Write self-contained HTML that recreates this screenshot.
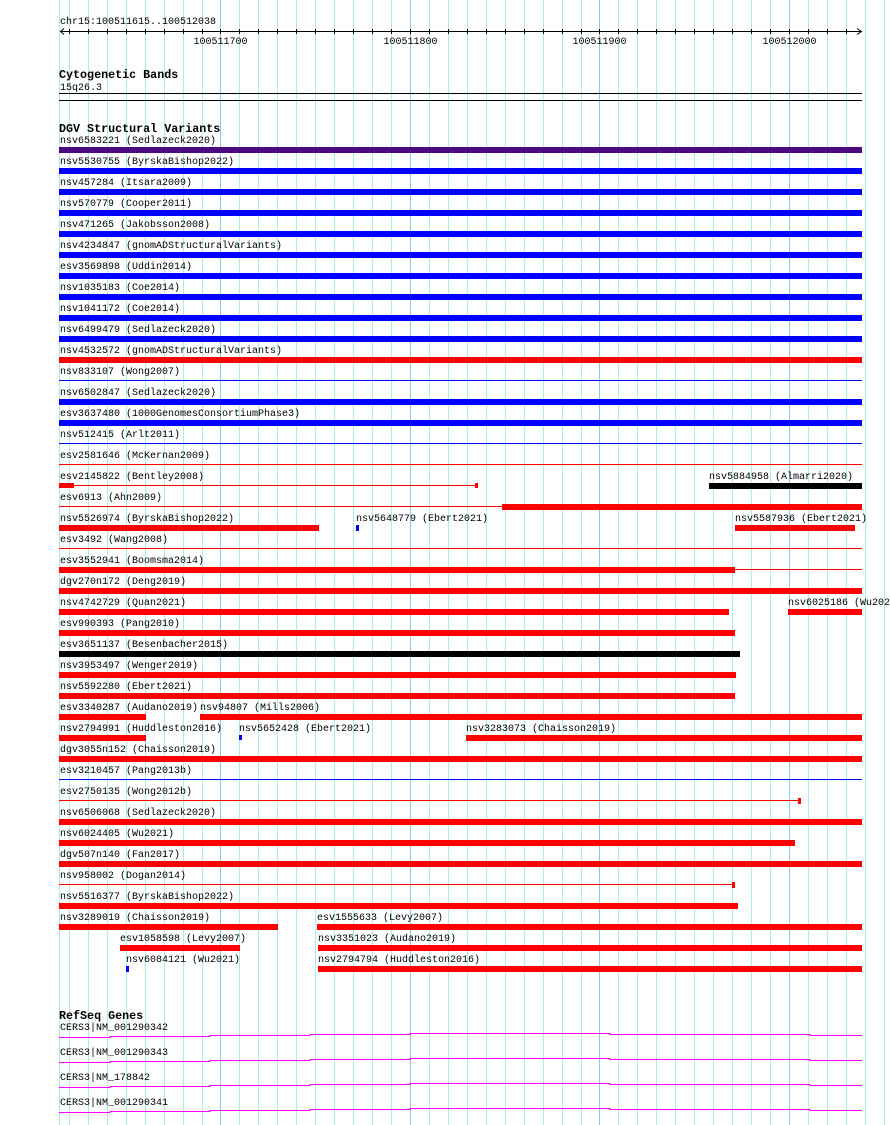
<!DOCTYPE html>
<html><head><meta charset="utf-8"><style>
html,body{margin:0;padding:0;background:#fff;}
svg{display:block;}
text{font-family:"Liberation Mono",monospace;font-size:10px;fill:#000;}
.h{font-weight:bold;font-size:11.7px;}
.g{stroke:#aee8f0;stroke-width:1;}
.gm{stroke:#88c8ee;stroke-width:1;}
.r{fill:#ff0000;}.b{fill:#0000ff;}.k{fill:#000;}
</style></head><body>
<svg width="890" height="1125" xmlns="http://www.w3.org/2000/svg">
<g>
<line class="g" x1="59.5" y1="0" x2="59.5" y2="1125"/>
<line class="g" x1="69.5" y1="0" x2="69.5" y2="1125"/><line class="g" x1="88.5" y1="0" x2="88.5" y2="1125"/><line class="g" x1="107.5" y1="0" x2="107.5" y2="1125"/><line class="g" x1="126.5" y1="0" x2="126.5" y2="1125"/><line class="g" x1="145.5" y1="0" x2="145.5" y2="1125"/><line class="g" x1="164.5" y1="0" x2="164.5" y2="1125"/><line class="g" x1="183.5" y1="0" x2="183.5" y2="1125"/><line class="g" x1="202.5" y1="0" x2="202.5" y2="1125"/><line class="gm" x1="220.5" y1="0" x2="220.5" y2="1125"/><line class="g" x1="239.5" y1="0" x2="239.5" y2="1125"/><line class="g" x1="258.5" y1="0" x2="258.5" y2="1125"/><line class="g" x1="277.5" y1="0" x2="277.5" y2="1125"/><line class="g" x1="296.5" y1="0" x2="296.5" y2="1125"/><line class="g" x1="315.5" y1="0" x2="315.5" y2="1125"/><line class="g" x1="334.5" y1="0" x2="334.5" y2="1125"/><line class="g" x1="353.5" y1="0" x2="353.5" y2="1125"/><line class="g" x1="372.5" y1="0" x2="372.5" y2="1125"/><line class="g" x1="391.5" y1="0" x2="391.5" y2="1125"/><line class="gm" x1="410.5" y1="0" x2="410.5" y2="1125"/><line class="g" x1="429.5" y1="0" x2="429.5" y2="1125"/><line class="g" x1="448.5" y1="0" x2="448.5" y2="1125"/><line class="g" x1="467.5" y1="0" x2="467.5" y2="1125"/><line class="g" x1="486.5" y1="0" x2="486.5" y2="1125"/><line class="g" x1="505.5" y1="0" x2="505.5" y2="1125"/><line class="g" x1="524.5" y1="0" x2="524.5" y2="1125"/><line class="g" x1="543.5" y1="0" x2="543.5" y2="1125"/><line class="g" x1="562.5" y1="0" x2="562.5" y2="1125"/><line class="g" x1="581.5" y1="0" x2="581.5" y2="1125"/><line class="gm" x1="599.5" y1="0" x2="599.5" y2="1125"/><line class="g" x1="618.5" y1="0" x2="618.5" y2="1125"/><line class="g" x1="637.5" y1="0" x2="637.5" y2="1125"/><line class="g" x1="656.5" y1="0" x2="656.5" y2="1125"/><line class="g" x1="675.5" y1="0" x2="675.5" y2="1125"/><line class="g" x1="694.5" y1="0" x2="694.5" y2="1125"/><line class="g" x1="713.5" y1="0" x2="713.5" y2="1125"/><line class="g" x1="732.5" y1="0" x2="732.5" y2="1125"/><line class="g" x1="751.5" y1="0" x2="751.5" y2="1125"/><line class="g" x1="770.5" y1="0" x2="770.5" y2="1125"/><line class="gm" x1="789.5" y1="0" x2="789.5" y2="1125"/><line class="g" x1="808.5" y1="0" x2="808.5" y2="1125"/><line class="g" x1="827.5" y1="0" x2="827.5" y2="1125"/><line class="g" x1="846.5" y1="0" x2="846.5" y2="1125"/><line class="g" x1="865.5" y1="0" x2="865.5" y2="1125"/><line class="g" x1="884.5" y1="0" x2="884.5" y2="1125"/>
</g>
<!-- ruler -->
<text x="60" y="24">chr15:100511615..100512038</text>
<line x1="60" y1="31.5" x2="862" y2="31.5" stroke="#000"/>
<polyline points="64,28.5 60.5,31.5 64,34.5" fill="none" stroke="#000"/>
<polyline points="857,28.5 861.5,31.5 857,34.5" fill="none" stroke="#000"/>
<g stroke="#000">
<line x1="69.5" y1="29" x2="69.5" y2="34"/><line x1="88.5" y1="29" x2="88.5" y2="34"/><line x1="107.5" y1="29" x2="107.5" y2="34"/><line x1="126.5" y1="29" x2="126.5" y2="34"/><line x1="145.5" y1="29" x2="145.5" y2="34"/><line x1="164.5" y1="29" x2="164.5" y2="34"/><line x1="183.5" y1="29" x2="183.5" y2="34"/><line x1="202.5" y1="29" x2="202.5" y2="34"/><line x1="220.5" y1="29" x2="220.5" y2="34"/><line x1="239.5" y1="29" x2="239.5" y2="34"/><line x1="258.5" y1="29" x2="258.5" y2="34"/><line x1="277.5" y1="29" x2="277.5" y2="34"/><line x1="296.5" y1="29" x2="296.5" y2="34"/><line x1="315.5" y1="29" x2="315.5" y2="34"/><line x1="334.5" y1="29" x2="334.5" y2="34"/><line x1="353.5" y1="29" x2="353.5" y2="34"/><line x1="372.5" y1="29" x2="372.5" y2="34"/><line x1="391.5" y1="29" x2="391.5" y2="34"/><line x1="410.5" y1="29" x2="410.5" y2="34"/><line x1="429.5" y1="29" x2="429.5" y2="34"/><line x1="448.5" y1="29" x2="448.5" y2="34"/><line x1="467.5" y1="29" x2="467.5" y2="34"/><line x1="486.5" y1="29" x2="486.5" y2="34"/><line x1="505.5" y1="29" x2="505.5" y2="34"/><line x1="524.5" y1="29" x2="524.5" y2="34"/><line x1="543.5" y1="29" x2="543.5" y2="34"/><line x1="562.5" y1="29" x2="562.5" y2="34"/><line x1="581.5" y1="29" x2="581.5" y2="34"/><line x1="599.5" y1="29" x2="599.5" y2="34"/><line x1="618.5" y1="29" x2="618.5" y2="34"/><line x1="637.5" y1="29" x2="637.5" y2="34"/><line x1="656.5" y1="29" x2="656.5" y2="34"/><line x1="675.5" y1="29" x2="675.5" y2="34"/><line x1="694.5" y1="29" x2="694.5" y2="34"/><line x1="713.5" y1="29" x2="713.5" y2="34"/><line x1="732.5" y1="29" x2="732.5" y2="34"/><line x1="751.5" y1="29" x2="751.5" y2="34"/><line x1="770.5" y1="29" x2="770.5" y2="34"/><line x1="789.5" y1="29" x2="789.5" y2="34"/><line x1="808.5" y1="29" x2="808.5" y2="34"/><line x1="827.5" y1="29" x2="827.5" y2="34"/><line x1="846.5" y1="29" x2="846.5" y2="34"/>
</g>
<text x="220.5" y="44" text-anchor="middle">100511700</text>
<text x="410.5" y="44" text-anchor="middle">100511800</text>
<text x="599.5" y="44" text-anchor="middle">100511900</text>
<text x="789.5" y="44" text-anchor="middle">100512000</text>
<!-- cytobands -->
<text class="h" x="59" y="78">Cytogenetic Bands</text>
<text x="60" y="90">15q26.3</text>
<line x1="59" y1="93.5" x2="862" y2="93.5" stroke="#000"/>
<line x1="59" y1="100.5" x2="862" y2="100.5" stroke="#000"/>
<!-- DGV -->
<text class="h" x="59" y="132">DGV Structural Variants</text>
<text x="60" y="143">nsv6583221 (Sedlazeck2020)</text><rect x="59" y="147" width="803" height="6" fill="#4b0a82"/>
<text x="60" y="164">nsv5530755 (ByrskaBishop2022)</text><rect class="b" x="59" y="168" width="803" height="6"/>
<text x="60" y="185">nsv457284 (Itsara2009)</text><rect class="b" x="59" y="189" width="803" height="6"/>
<text x="60" y="206">nsv570779 (Cooper2011)</text><rect class="b" x="59" y="210" width="803" height="6"/>
<text x="60" y="227">nsv471265 (Jakobsson2008)</text><rect class="b" x="59" y="231" width="803" height="6"/>
<text x="60" y="248">nsv4234847 (gnomADStructuralVariants)</text><rect class="b" x="59" y="252" width="803" height="6"/>
<text x="60" y="269">esv3569898 (Uddin2014)</text><rect class="b" x="59" y="273" width="803" height="6"/>
<text x="60" y="290">nsv1035183 (Coe2014)</text><rect class="b" x="59" y="294" width="803" height="6"/>
<text x="60" y="311">nsv1041172 (Coe2014)</text><rect class="b" x="59" y="315" width="803" height="6"/>
<text x="60" y="332">nsv6499479 (Sedlazeck2020)</text><rect class="b" x="59" y="336" width="803" height="6"/>
<text x="60" y="353">nsv4532572 (gnomADStructuralVariants)</text><rect class="r" x="59" y="357" width="803" height="6"/>
<text x="60" y="374">nsv833107 (Wong2007)</text><rect class="b" x="59" y="380" width="803" height="1"/>
<text x="60" y="395">nsv6502847 (Sedlazeck2020)</text><rect class="b" x="59" y="399" width="803" height="6"/>
<text x="60" y="416">esv3637480 (1000GenomesConsortiumPhase3)</text><rect class="b" x="59" y="420" width="803" height="6"/>
<text x="60" y="437">nsv512415 (Arlt2011)</text><rect class="b" x="59" y="443" width="803" height="1"/>
<text x="60" y="458">esv2581646 (McKernan2009)</text><rect class="r" x="59" y="464" width="803" height="1"/>
<text x="60" y="479">esv2145822 (Bentley2008)</text><rect class="r" x="59" y="483" width="15" height="5"/><rect class="r" x="74" y="485" width="402" height="1"/><rect class="r" x="475" y="483" width="3" height="5"/>
<text x="709" y="479">nsv5884958 (Almarri2020)</text><rect class="k" x="709" y="483" width="153" height="6"/>
<text x="60" y="500">esv6913 (Ahn2009)</text><rect class="r" x="59" y="506" width="443" height="1"/><rect class="r" x="502" y="504" width="360" height="6"/>
<text x="60" y="521">nsv5526974 (ByrskaBishop2022)</text><rect class="r" x="59" y="525" width="260" height="6"/>
<text x="356" y="521">nsv5648779 (Ebert2021)</text><rect class="b" x="356" y="525" width="3" height="6"/>
<text x="735" y="521">nsv5587936 (Ebert2021)</text><rect class="r" x="735" y="525" width="120" height="6"/>
<text x="60" y="542">esv3492 (Wang2008)</text><rect class="r" x="59" y="548" width="803" height="1"/>
<text x="60" y="563">esv3552941 (Boomsma2014)</text><rect class="r" x="59" y="567" width="676" height="6"/><rect class="r" x="735" y="569" width="127" height="1"/>
<text x="60" y="584">dgv270n172 (Deng2019)</text><rect class="r" x="59" y="588" width="803" height="6"/>
<text x="60" y="605">nsv4742729 (Quan2021)</text><rect class="r" x="59" y="609" width="670" height="6"/>
<text x="788" y="605">nsv6025186 (Wu2021)</text><rect class="r" x="788" y="609" width="74" height="6"/>
<text x="60" y="626">esv990393 (Pang2010)</text><rect class="r" x="59" y="630" width="676" height="6"/>
<text x="60" y="647">esv3651137 (Besenbacher2015)</text><rect class="k" x="59" y="651" width="681" height="6"/>
<text x="60" y="668">nsv3953497 (Wenger2019)</text><rect class="r" x="59" y="672" width="677" height="6"/>
<text x="60" y="689">nsv5592280 (Ebert2021)</text><rect class="r" x="59" y="693" width="676" height="6"/>
<text x="60" y="710">esv3340287 (Audano2019)</text><rect class="r" x="59" y="714" width="87" height="6"/>
<text x="200" y="710">nsv94807 (Mills2006)</text><rect class="r" x="200" y="714" width="662" height="6"/>
<text x="60" y="731">nsv2794991 (Huddleston2016)</text><rect class="r" x="59" y="735" width="87" height="6"/>
<text x="239" y="731">nsv5652428 (Ebert2021)</text><rect class="b" x="239" y="735" width="3" height="5"/>
<text x="466" y="731">nsv3283073 (Chaisson2019)</text><rect class="r" x="466" y="735" width="396" height="6"/>
<text x="60" y="752">dgv3055n152 (Chaisson2019)</text><rect class="r" x="59" y="756" width="803" height="6"/>
<text x="60" y="773">esv3210457 (Pang2013b)</text><rect class="b" x="59" y="779" width="803" height="1"/>
<text x="60" y="794">esv2750135 (Wong2012b)</text><rect class="r" x="59" y="800" width="740" height="1"/><rect class="r" x="798" y="798" width="3" height="6"/>
<text x="60" y="815">nsv6506068 (Sedlazeck2020)</text><rect class="r" x="59" y="819" width="803" height="6"/>
<text x="60" y="836">nsv6024405 (Wu2021)</text><rect class="r" x="59" y="840" width="736" height="6"/>
<text x="60" y="857">dgv507n140 (Fan2017)</text><rect class="r" x="59" y="861" width="803" height="6"/>
<text x="60" y="878">nsv958002 (Dogan2014)</text><rect class="r" x="59" y="884" width="676" height="1"/><rect class="r" x="732" y="882" width="3" height="6"/>
<text x="60" y="899">nsv5516377 (ByrskaBishop2022)</text><rect class="r" x="59" y="903" width="679" height="6"/>
<text x="60" y="920">nsv3289019 (Chaisson2019)</text><rect class="r" x="59" y="924" width="219" height="6"/>
<text x="317" y="920">esv1555633 (Levy2007)</text><rect class="r" x="317" y="924" width="545" height="6"/>
<text x="120" y="941">esv1058598 (Levy2007)</text><rect class="r" x="120" y="945" width="120" height="6"/>
<text x="318" y="941">nsv3351023 (Audano2019)</text><rect class="r" x="318" y="945" width="544" height="6"/>
<text x="126" y="962">nsv6084121 (Wu2021)</text><rect class="b" x="126" y="966" width="3" height="6"/>
<text x="318" y="962">nsv2794794 (Huddleston2016)</text><rect class="r" x="318" y="966" width="544" height="6"/>
<!-- RefSeq -->
<text class="h" x="59" y="1019">RefSeq Genes</text>
<g fill="none" stroke="#ff00ff" stroke-width="1">
<text x="60" y="1030" style="stroke:none">CERS3|NM_001290342</text>
<polyline points="59,1037.5 110,1037.5 110,1036.5 210,1036.5 210,1035.5 310,1035.5 310,1034.5 410,1034.5 410,1033.5 610,1033.5 610,1034.5 810,1034.5 810,1035.5 862,1035.5"/>
<text x="60" y="1055" style="stroke:none">CERS3|NM_001290343</text>
<polyline points="59,1062.5 110,1062.5 110,1061.5 210,1061.5 210,1060.5 310,1060.5 310,1059.5 410,1059.5 410,1058.5 610,1058.5 610,1059.5 810,1059.5 810,1060.5 862,1060.5"/>
<text x="60" y="1080" style="stroke:none">CERS3|NM_178842</text>
<polyline points="59,1087.5 110,1087.5 110,1086.5 210,1086.5 210,1085.5 310,1085.5 310,1084.5 410,1084.5 410,1083.5 610,1083.5 610,1084.5 810,1084.5 810,1085.5 862,1085.5"/>
<text x="60" y="1105" style="stroke:none">CERS3|NM_001290341</text>
<polyline points="59,1112.5 110,1112.5 110,1111.5 210,1111.5 210,1110.5 310,1110.5 310,1109.5 410,1109.5 410,1108.5 610,1108.5 610,1109.5 810,1109.5 810,1110.5 862,1110.5"/>
</g>
</svg>
</body></html>
